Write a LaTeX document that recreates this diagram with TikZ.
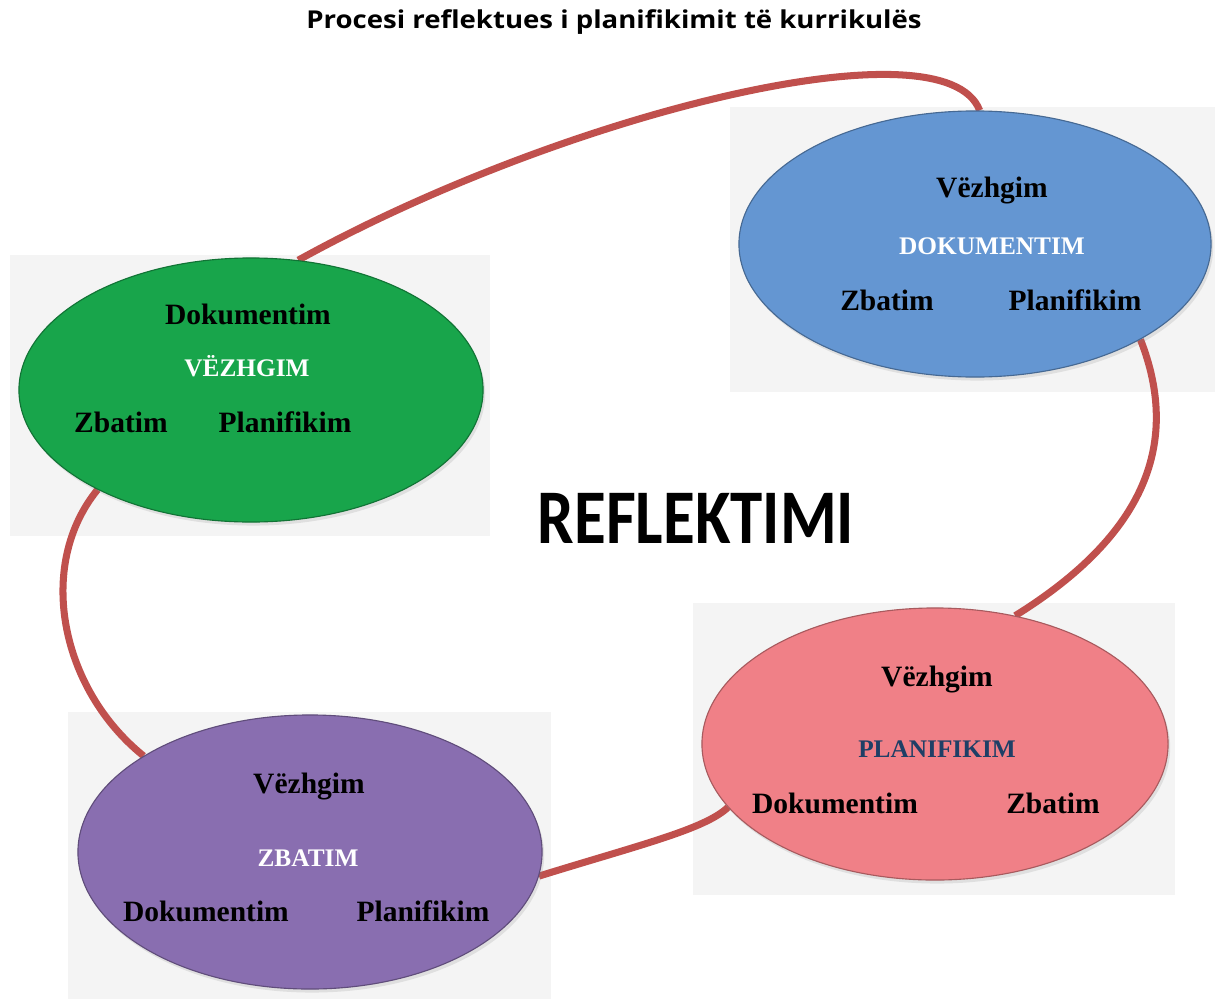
\documentclass[tikz,border=0pt]{standalone}
\usepackage{fontspec}
\setmainfont{Liberation Serif}
\newfontfamily\titlefont[FakeStretch=1.12]{Open Sans}
\newfontfamily\reffont[FakeStretch=0.84]{Carlito}
\usetikzlibrary{shapes.geometric,calc,shadows}
\pgfdeclarelayer{bglayer}
\pgfdeclarelayer{linelayer}
\pgfsetlayers{bglayer,linelayer,main}
\definecolor{bgcol}{HTML}{F4F4F4}
\definecolor{lnk}{HTML}{C0504D}
\definecolor{cgreen}{HTML}{18A54B}
\definecolor{cblue}{HTML}{6496D2}
\definecolor{cpink}{HTML}{F08087}
\definecolor{cpurple}{HTML}{896EB0}
\definecolor{navy}{HTML}{1F3F66}
\begin{document}
\begin{tikzpicture}[x=0.025cm,y=-0.025cm,
  blob/.style={ellipse, inner sep=0, fill=#1, draw=#1!70!black, line width=0.8pt,
    drop shadow={opacity=0.18, shadow xshift=1.5pt, shadow yshift=-2.5pt}},
  link/.style={draw=lnk, line width=5pt},
  word/.style={anchor=base, inner sep=0, font=\bfseries\fontsize{21}{25}\selectfont},
  capword/.style={anchor=base, inner sep=0, font=\bfseries\fontsize{18}{22}\selectfont}]
\useasboundingbox (0,0) rectangle (1215,999);
\begin{pgfonlayer}{bglayer}
  \fill[white] (0,0) rectangle (1215,999);
  \fill[bgcol] (10,255) rectangle (490,536);
  \fill[bgcol] (730,107) rectangle (1215,392);
  \fill[bgcol] (693,603) rectangle (1175,895);
  \fill[bgcol] (68,712) rectangle (551,999);
\end{pgfonlayer}

\node[blob=cgreen, minimum width=11.6cm, minimum height=6.6cm] (g) at (251,390) {};
\node[blob=cblue, minimum width=11.8cm, minimum height=6.65cm] (b) at (975,244) {};
\node[blob=cpink, minimum width=11.65cm, minimum height=6.8cm] (p) at (935,744) {};
\node[blob=cpurple, minimum width=11.6cm, minimum height=6.85cm] (u) at (310,852) {};

\begin{pgfonlayer}{linelayer}
  \draw[link] (g.70) .. controls ($(g.70)+(262,-145)$) and ($(b.88)+(-35,-92)$) .. (b.88);
  \draw[link] (b.-30) .. controls ($(b.-30)+(40,102)$) and ($(p.58)+(132,-82)$) .. (p.58);
  \draw[link] (p.197) .. controls ($(p.197)+(-23,22)$) and ($(u.-6)+(100,-31)$) .. (u.-6);
  \draw[link] (g.213) .. controls ($(g.213)+(-62,76)$) and ($(u.150)+(-83,-67)$) .. (u.150);
\end{pgfonlayer}

% green
\node[word] (g1) at (248,324) {Dokumentim};
\node[capword, text=white] (g2) at (247,376) {VËZHGIM};
\node[word] (g3) at (121,432) {Zbatim};
\node[word] (g4) at (285,432) {Planifikim};
% blue
\node[word] (b1) at (992,197) {Vëzhgim};
\node[capword, text=white] (b2) at (992,254) {DOKUMENTIM};
\node[word] (b3) at (887,310) {Zbatim};
\node[word] (b4) at (1075,310) {Planifikim};
% pink
\node[word] (p1) at (937,686) {Vëzhgim};
\node[capword, text=navy] (p2) at (937,757) {PLANIFIKIM};
\node[word] (p3) at (835,813) {Dokumentim};
\node[word] (p4) at (1053,813) {Zbatim};
% purple
\node[word] (u1) at (309,793) {Vëzhgim};
\node[capword, text=white] (u2) at (308,866) {ZBATIM};
\node[word] (u3) at (206,921) {Dokumentim};
\node[word] (u4) at (423,921) {Planifikim};

\node[anchor=base, inner sep=0] (title) at (614,29) {\titlefont\bfseries\fontsize{17.5}{20}\selectfont Procesi reflektues i planifikimit të kurrikulës};
\node[anchor=base, inner sep=0] (refl) at (696,543) {\reffont\bfseries\fontsize{55}{60}\selectfont REFLEKTIMI};
\end{tikzpicture}
\end{document}
